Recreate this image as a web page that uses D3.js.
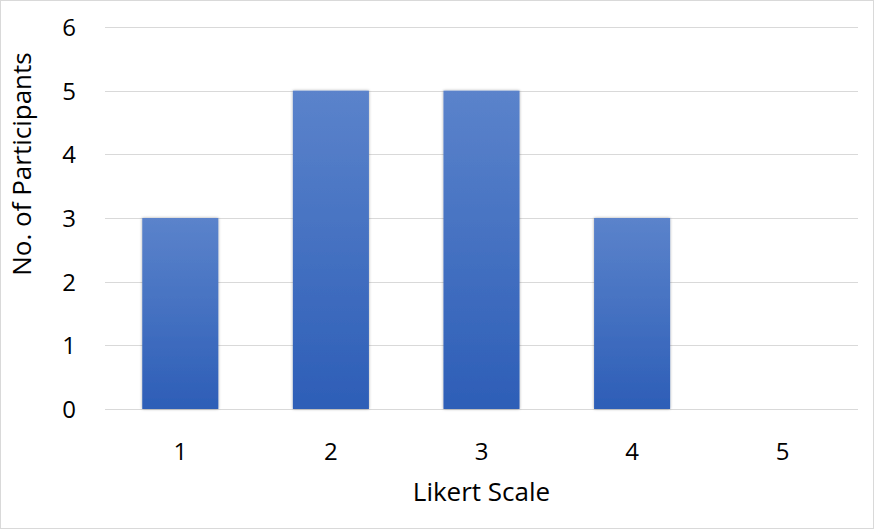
<!DOCTYPE html>
<html><head><meta charset="utf-8">
<script src="https://cdn.jsdelivr.net/npm/d3@7"></script>
<style>body{margin:0;background:#fff}svg{display:block}</style>
</head><body>
<script>
const categories = ["1","2","3","4","5"];
const values = [3,5,5,3,0];
const yTicks = [0,1,2,3,4,5,6];
const xTitle = "Likert Scale";
const yTitle = "No. of Participants";

const W=874,H=529;
const m={left:105,right:16,top:27,bottom:120};
const svg=d3.select("body").append("svg").attr("width",W).attr("height",H);
svg.append("rect").attr("x",0.5).attr("y",0.5).attr("width",W-1).attr("height",H-1)
  .attr("fill","#fff").attr("stroke","#d9d9d9");
const defs=svg.append("defs");
const g1=defs.append("linearGradient").attr("id","bg").attr("x1",0).attr("y1",0).attr("x2",0).attr("y2",1);
g1.append("stop").attr("offset","0%").attr("stop-color","#5b83cb");
g1.append("stop").attr("offset","100%").attr("stop-color","#2d5eb7");
const f=defs.append("filter").attr("id","sh").attr("x","-20%").attr("y","-20%").attr("width","140%").attr("height","140%");
f.append("feGaussianBlur").attr("in","SourceAlpha").attr("stdDeviation",1.5).attr("result","b");
f.append("feOffset").attr("in","b").attr("dx",0).attr("dy",0).attr("result","o");
f.append("feComponentTransfer").attr("in","o").attr("result","o2").append("feFuncA").attr("type","linear").attr("slope",0.35);
const fm=f.append("feMerge");fm.append("feMergeNode").attr("in","o2");fm.append("feMergeNode").attr("in","SourceGraphic");

const x=d3.scaleBand().domain(categories).range([m.left,W-m.right]).paddingInner(0.495).paddingOuter(0.2475);
const y=d3.scaleLinear().domain([0,6]).range([H-m.bottom,m.top]);
const font="'Open Sans', 'Liberation Sans', sans-serif";

svg.append("g").selectAll("line").data(yTicks).join("line")
  .attr("x1",m.left).attr("x2",W-m.right).attr("y1",d=>Math.round(y(d))+0.5).attr("y2",d=>Math.round(y(d))+0.5)
  .attr("stroke","#d9d9d9").attr("stroke-width",1);

svg.append("g").selectAll("rect").data(values).join("rect")
  .attr("x",(d,i)=>x(categories[i])).attr("width",x.bandwidth())
  .attr("y",d=>y(d)).attr("height",d=>y(0)-y(d))
  .attr("fill","url(#bg)").attr("filter","url(#sh)");

const ya=d3.axisLeft(y).tickValues(yTicks).tickSize(0).tickPadding(0).tickFormat(d3.format("d"));
const yg=svg.append("g").attr("transform",`translate(76,0)`).call(ya);
yg.select(".domain").remove();
yg.selectAll("text").attr("font-family",font).attr("font-size",24).attr("fill","#000").attr("dy","0.36em");

const xa=d3.axisBottom(x).tickSize(0).tickPadding(0);
const xg=svg.append("g").attr("transform",`translate(0,${y(0)})`).call(xa);
xg.select(".domain").remove();
xg.selectAll("text").attr("font-family",font).attr("font-size",24).attr("fill","#000").attr("dy",0).attr("y",51);

svg.append("text").attr("x",(m.left+W-m.right)/2).attr("y",501).attr("text-anchor","middle")
  .attr("font-family",font).attr("font-size",26).attr("fill","#000").text(xTitle);
svg.append("text").attr("transform",`translate(31,164) rotate(-90)`).attr("text-anchor","middle")
  .attr("font-family",font).attr("font-size",26).attr("fill","#000").text(yTitle);
</script>
</body></html>
